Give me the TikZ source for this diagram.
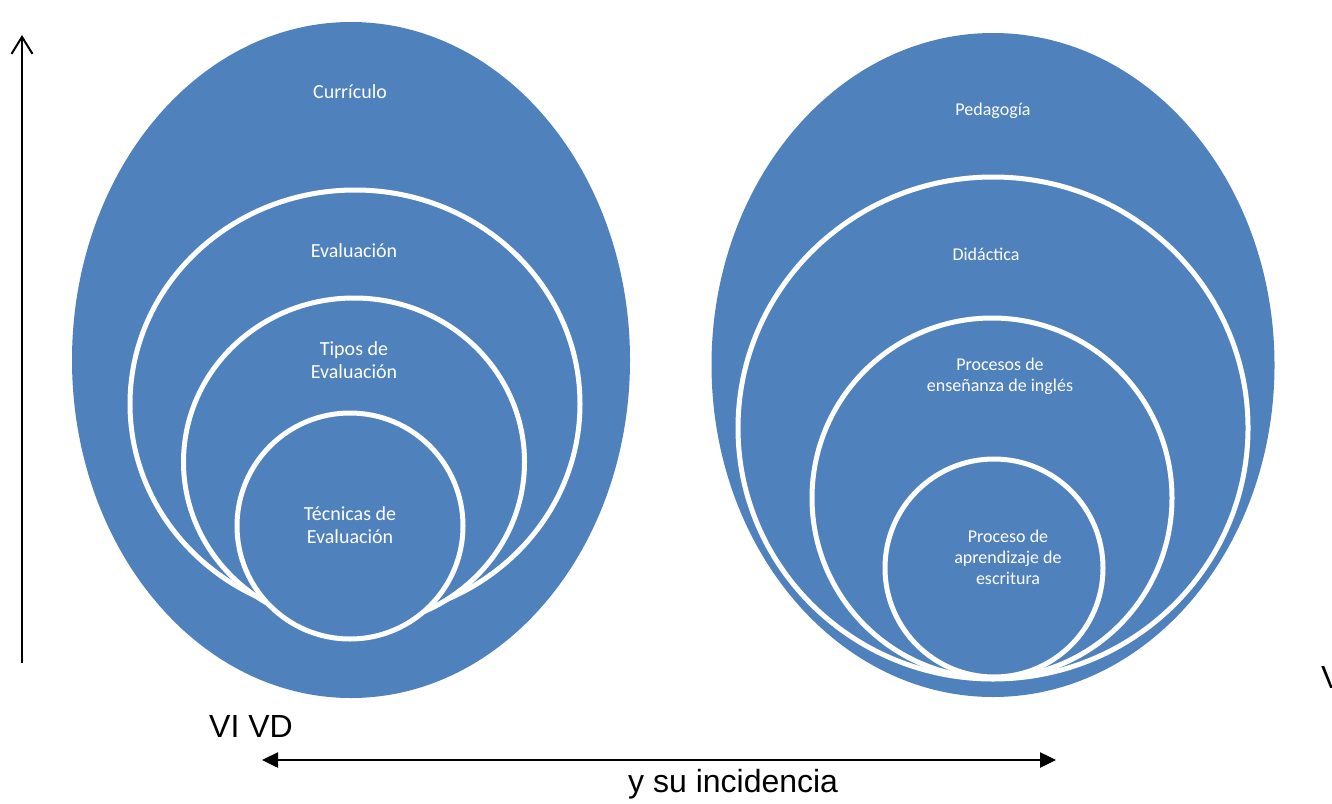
\documentclass[tikz,border=0pt]{standalone}
\usepackage{fontspec}
\setmainfont{Liberation Sans}
\newfontfamily\calibri{Carlito}
\usetikzlibrary{shapes.geometric,arrows.meta}
\definecolor{officeblue}{RGB}{79,129,189}

\begin{document}
\begin{tikzpicture}[x=1pt,y=-1pt,
    blob/.style={ellipse,fill=officeblue,inner sep=0pt},
    ring/.style={blob,draw=white,line width=5pt},
    lbl/.style={text=white,font=\calibri\fontsize{20}{23}\selectfont,align=center,inner sep=0pt},
    lblsmall/.style={lbl,font=\calibri\fontsize{18}{21}\selectfont},
    axis/.style={line width=2pt},
    big/.style={font=\fontsize{32}{36}\selectfont,inner sep=0pt}]
    \useasboundingbox (0,0) rectangle (1332,803);

    % left group
    \node[blob,minimum width=558pt,minimum height=676pt] (curriculo) at (351,360) {};
    \node[ring,minimum width=450pt,minimum height=428pt] (evaluacion) at (355,404) {};
    \node[ring,minimum width=341pt,minimum height=328pt] (tipos) at (354,462) {};
    \node[ring,minimum width=226pt,minimum height=226pt] (tecnicas) at (350,526) {};
    \node[lbl] (curriculotxt) at (350,92) {Currículo};
    \node[lbl] (evaluaciontxt) at (354,251) {Evaluación};
    \node[lbl] (tipostxt) at (354,360) {Tipos de\\Evaluación};
    \node[lbl] (tecnicastxt) at (350,525) {Técnicas de\\Evaluación};

    % right group
    \node[blob,minimum width=563pt,minimum height=664pt] (pedagogia) at (993,365) {};
    \node[ring,minimum width=510pt,minimum height=502pt] (didactica) at (993,428) {};
    \node[ring,minimum width=360pt,minimum height=360pt] (ensenanza) at (992,498) {};
    \node[ring,minimum width=218pt,minimum height=218pt] (aprendizaje) at (994,568) {};
    \node[lblsmall] (pedagogiatxt) at (993,111) {Pedagogía};
    \node[lblsmall] (didacticatxt) at (986,254) {Didáctica};
    \node[lblsmall] (ensenanzatxt) at (1000,376) {Procesos de\\enseñanza de inglés};
    \node[lblsmall] (aprendizajetxt) at (1008,557) {Proceso de\\aprendizaje de\\escritura};

    % arrows
    \coordinate (ybot) at (22,663);
    \coordinate (ytop) at (22,35);
    \draw[axis,-{Straight Barb[length=17pt,width=21pt]}] (ybot) -- (ytop);
    \coordinate (xleft) at (262,760);
    \coordinate (xright) at (1056,760);
    \draw[axis,line width=2.5pt,{Triangle[length=16pt,width=15pt]}-{Triangle[length=16pt,width=15pt]}] (xleft) -- (xright);

    % texts
    \node[big,anchor=base west] (vivd) at (209,737) {VI VD};
    \node[big,anchor=base west] (incidencia) at (628,792) {y su incidencia};
    \node[big,anchor=base west] (vcut) at (1321,688) {V};
\end{tikzpicture}
\end{document}
